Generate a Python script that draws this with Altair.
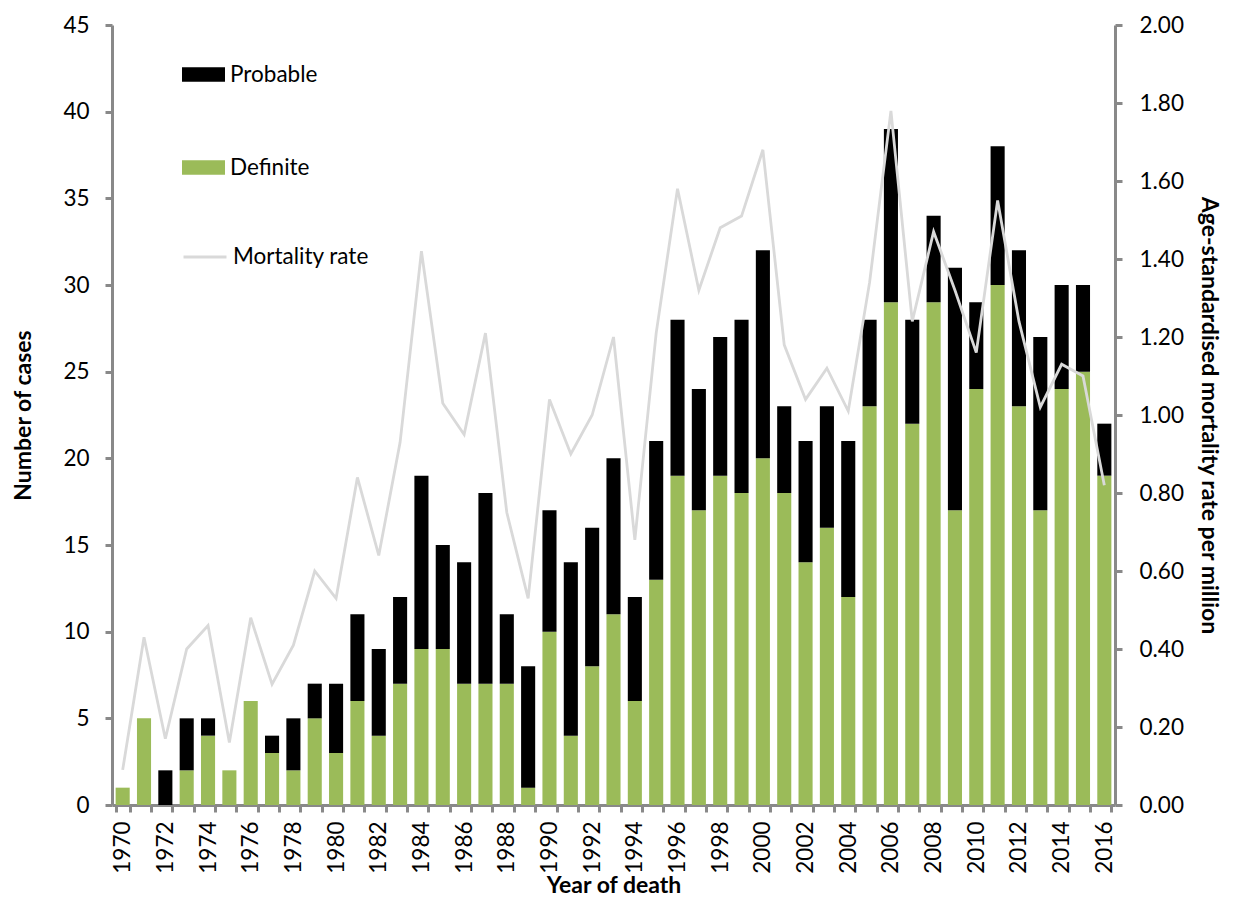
import altair as alt
import pandas as pd

years = list(range(1970, 2017))

definite = [1, 5, 0, 2, 4, 2, 6, 3, 2, 5,
            3, 6, 4, 7, 9, 9, 7, 7, 7, 1,
            10, 4, 8, 11, 6, 13, 19, 17, 19, 18,
            20, 18, 14, 16, 12, 23, 29, 22, 29, 17,
            24, 30, 23, 17, 24, 25, 19]

probable = [0, 0, 2, 3, 1, 0, 0, 1, 3, 2,
            4, 5, 5, 5, 10, 6, 7, 11, 4, 7,
            7, 10, 8, 9, 6, 8, 9, 7, 8, 10,
            12, 5, 7, 7, 9, 5, 10, 6, 5, 14,
            5, 8, 9, 10, 6, 5, 3]

mortality_rate = [0.09, 0.43, 0.17, 0.40, 0.46, 0.16, 0.48, 0.31, 0.41, 0.60,
                  0.53, 0.84, 0.64, 0.93, 1.42, 1.03, 0.95, 1.21, 0.75, 0.53,
                  1.04, 0.90, 1.00, 1.20, 0.68, 1.21, 1.58, 1.32, 1.48, 1.51,
                  1.68, 1.18, 1.04, 1.12, 1.01, 1.34, 1.78, 1.24, 1.47, 1.32,
                  1.16, 1.55, 1.24, 1.02, 1.13, 1.10, 0.82]

case_types = ["Probable", "Definite"]
case_colours = ["#000000", "#9bbb59"]
cases_ticks = list(range(0, 46, 5))
rate_ticks = [round(i * 0.2, 1) for i in range(11)]

# long form for the stacked bars: definite at the bottom, probable on top
bars_df = pd.concat([
    pd.DataFrame({"year": years, "type": "Definite", "cases": definite, "stack": 0}),
    pd.DataFrame({"year": years, "type": "Probable", "cases": probable, "stack": 1}),
])
rate_df = pd.DataFrame({"year": years, "rate": mortality_rate, "series": "Mortality rate"})

FONT = "Lato"
LABEL_SIZE = 22.5
AXIS_GREY = "#898989"

x_enc = alt.X(
    "year:O",
    scale=alt.Scale(paddingInner=0.34, paddingOuter=0.17),
    axis=alt.Axis(
        title="Year of death",
        labelAngle=-90,
        labelExpr="datum.value % 2 == 0 ? datum.label : ''",
        labelOverlap=False,
        tickBand="extent",
        labelPadding=9,
        titlePadding=1,
    ),
)

bars = alt.Chart(bars_df).mark_bar().encode(
    x=x_enc,
    y=alt.Y(
        "cases:Q",
        stack="zero",
        scale=alt.Scale(domain=[0, 45], nice=False),
        axis=alt.Axis(title="Number of cases", values=cases_ticks,
                      labelPadding=16, titlePadding=27),
    ),
    color=alt.Color(
        "type:N",
        scale=alt.Scale(domain=case_types, range=case_colours),
        legend=alt.Legend(
            title=None, orient="none", legendX=70, legendY=28,
            symbolType="M-1,-0.34L1,-0.34L1,0.34L-1,0.34Z",
            symbolSize=1849, symbolStrokeWidth=0, symbolOpacity=1,
            labelFontSize=LABEL_SIZE, labelFont=FONT, labelColor="#000000",
            labelOffset=5, rowPadding=60, padding=0,
        ),
    ),
    order=alt.Order("stack:Q"),
)

line = alt.Chart(rate_df).mark_line(strokeWidth=2.8).encode(
    x=x_enc,
    y=alt.Y(
        "rate:Q",
        scale=alt.Scale(domain=[0, 2], nice=False),
        axis=alt.Axis(title="Age-standardised mortality rate per million",
                      orient="right", values=rate_ticks, format=".2f",
                      labelPadding=17, titlePadding=13),
    ),
    stroke=alt.Stroke(
        "series:N",
        scale=alt.Scale(domain=["Mortality rate"], range=["#d9d9d9"]),
        legend=alt.Legend(
            title=None, orient="none", legendX=70, legendY=209,
            symbolType="stroke", symbolSize=1849, symbolStrokeWidth=3,
            labelFontSize=LABEL_SIZE, labelFont=FONT, labelColor="#000000",
            labelOffset=5, padding=0,
        ),
    ),
)

chart = alt.layer(bars, line).resolve_scale(
    y="independent"
).properties(
    width=1003,
    height=780,
    autosize=alt.AutoSizeParams(type="none"),
    padding={"left": 104, "top": 17, "right": 114, "bottom": 94},
).configure_axis(
    grid=False,
    domainColor=AXIS_GREY,
    domainWidth=3,
    tickColor=AXIS_GREY,
    tickWidth=3,
    tickSize=7,
    labelFont=FONT,
    labelFontSize=LABEL_SIZE,
    labelColor="#000000",
    titleFont=FONT,
    titleFontSize=23,
    titleFontWeight="bold",
    titleColor="#000000",
).configure_view(strokeWidth=0)

chart.save("out.html", embed_options={"renderer": "svg", "actions": False})
